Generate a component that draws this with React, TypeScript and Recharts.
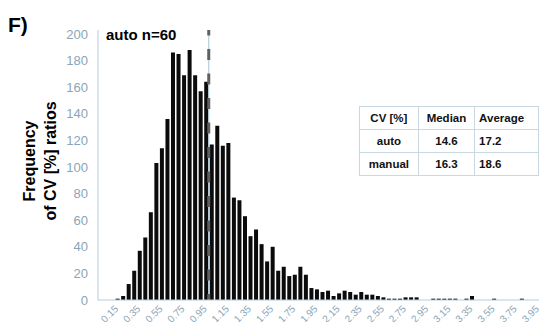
import { BarChart, Bar, XAxis, YAxis, ReferenceLine } from 'recharts';

// histogram bins (0.05 wide)
const bins = [
  '0.00', '0.05', '0.10', '0.15', '0.20', '0.25', '0.30', '0.35', '0.40', '0.45',
  '0.50', '0.55', '0.60', '0.65', '0.70', '0.75', '0.80', '0.85', '0.90', '0.95',
  '1.00', '1.05', '1.10', '1.15', '1.20', '1.25', '1.30', '1.35', '1.40', '1.45',
  '1.50', '1.55', '1.60', '1.65', '1.70', '1.75', '1.80', '1.85', '1.90', '1.95',
  '2.00', '2.05', '2.10', '2.15', '2.20', '2.25', '2.30', '2.35', '2.40', '2.45',
  '2.50', '2.55', '2.60', '2.65', '2.70', '2.75', '2.80', '2.85', '2.90', '2.95',
  '3.00', '3.05', '3.10', '3.15', '3.20', '3.25', '3.30', '3.35', '3.40', '3.45',
  '3.50', '3.55', '3.60', '3.65', '3.70', '3.75', '3.80', '3.85', '3.90', '3.95',
];

const frequency = [
  0, 0, 0, 1, 3, 12, 22, 37, 47, 66,
  103, 114, 136, 186, 185, 169, 188, 169, 157, 164,
  117, 131, 116, 118, 77, 75, 63, 48, 53, 42,
  29, 40, 22, 25, 18, 19, 25, 19, 9, 8,
  6, 7, 3, 5, 7, 6, 4, 6, 4, 4,
  3, 2, 1, 1, 1, 2, 2, 2, 0, 0,
  1, 1, 1, 1, 1, 0, 1, 3, 0, 0,
  0, 1, 0, 0, 0, 0, 1, 0, 0, 0,
];

const shownTicks = [
  '0.15', '0.35', '0.55', '0.75', '0.95', '1.15', '1.35', '1.55', '1.75', '1.95',
  '2.15', '2.35', '2.55', '2.75', '2.95', '3.15', '3.35', '3.55', '3.75', '3.95',
];

const yTicks = [0, 20, 40, 60, 80, 100, 120, 140, 160, 180, 200];

const tableHeader = ['CV [%]', 'Median', 'Average'];
const tableRows = [
  ['auto', '14.6', '17.2'],
  ['manual', '16.3', '18.6'],
];

const data = bins.map((bin, i) => ({ bin, count: frequency[i] }));

const FONT = '"Liberation Sans", Arial, sans-serif';
const TICK_COLOR = '#8aa5b8';
const AXIS_COLOR = '#b8cbd8';

function XTick(props: any) {
  const { x, y, payload } = props;
  if (!shownTicks.includes(payload.value)) return <g />;
  return (
    <g transform={`translate(${x - 1},${y + 7})`}>
      <text
        x={0}
        y={0}
        dy="0.35em"
        textAnchor="end"
        transform="rotate(-45)"
        fill={TICK_COLOR}
        fontSize={10}
        fontFamily={FONT}
      >
        {payload.value}
      </text>
    </g>
  );
}

export default function App() {
  const colW = [64, 61, 64];
  return (
    <div style={{ position: 'absolute', left: 0, top: 0, width: 539, height: 322, overflow: 'hidden', background: '#fff' }}>
      <BarChart
        width={546}
        height={340}
        data={data}
        margin={{ top: 30, right: 5, left: 0, bottom: 0 }}
      >
        <XAxis
          dataKey="bin"
          interval={0}
          tick={<XTick />}
          tickLine={false}
          tickSize={0}
          tickMargin={0}
          axisLine={{ stroke: AXIS_COLOR }}
          height={40}
        />
        <YAxis
          domain={[0, 203]}
          ticks={yTicks}
          width={98}
          tickLine={false}
          tickSize={0}
          tickMargin={10}
          axisLine={{ stroke: AXIS_COLOR }}
          tick={{ fill: TICK_COLOR, fontSize: 13, fontFamily: FONT }}
        />
        <Bar dataKey="count" fill="#0b0b0b" barSize={4} isAnimationActive={false} />
        <ReferenceLine x="1.00" position="start" stroke="#a8c3d6" strokeWidth={1} />
        <ReferenceLine
          x="1.00"
          position="start"
          stroke="#606060"
          strokeWidth={3}
          strokeDasharray="11 13.5"
          strokeDashoffset={5}
        />
      </BarChart>

      <svg width={539} height={322} style={{ position: 'absolute', left: 0, top: 0, pointerEvents: 'none' }}>
        <text x={8} y={32} fontFamily={FONT} fontWeight="bold" fontSize={21} fill="#000">F)</text>
        <text x={106} y={40} fontFamily={FONT} fontWeight="bold" fontSize={15} fill="#000">auto n=60</text>
        <text
          x={35}
          y={161}
          transform="rotate(-90 35 161)"
          textAnchor="middle"
          fontFamily={FONT}
          fontWeight="bold"
          fontSize={16}
          fill="#000"
        >
          Frequency
        </text>
        <text
          x={56}
          y={161}
          transform="rotate(-90 56 161)"
          textAnchor="middle"
          fontFamily={FONT}
          fontWeight="bold"
          fontSize={16}
          fill="#000"
        >
          of CV [%] ratios
        </text>
      </svg>

      <table
        style={{
          position: 'absolute',
          left: 359,
          top: 106,
          borderCollapse: 'collapse',
          background: '#fff',
          fontFamily: FONT,
          fontWeight: 'bold',
          fontSize: 11.5,
          color: '#111',
        }}
      >
        <tbody>
          {[tableHeader, ...tableRows].map((row, r) => (
            <tr key={r} style={{ height: 23 }}>
              {row.map((cell, c) => (
                <td
                  key={c}
                  style={{
                    width: colW[c] - 1,
                    padding: 0,
                    textAlign: c === 2 ? 'left' : 'center',
                    paddingLeft: c === 2 ? 4 : 0,
                    border: '1px solid #c9d7e0',
                  }}
                >
                  {cell}
                </td>
              ))}
            </tr>
          ))}
        </tbody>
      </table>
    </div>
  );
}
